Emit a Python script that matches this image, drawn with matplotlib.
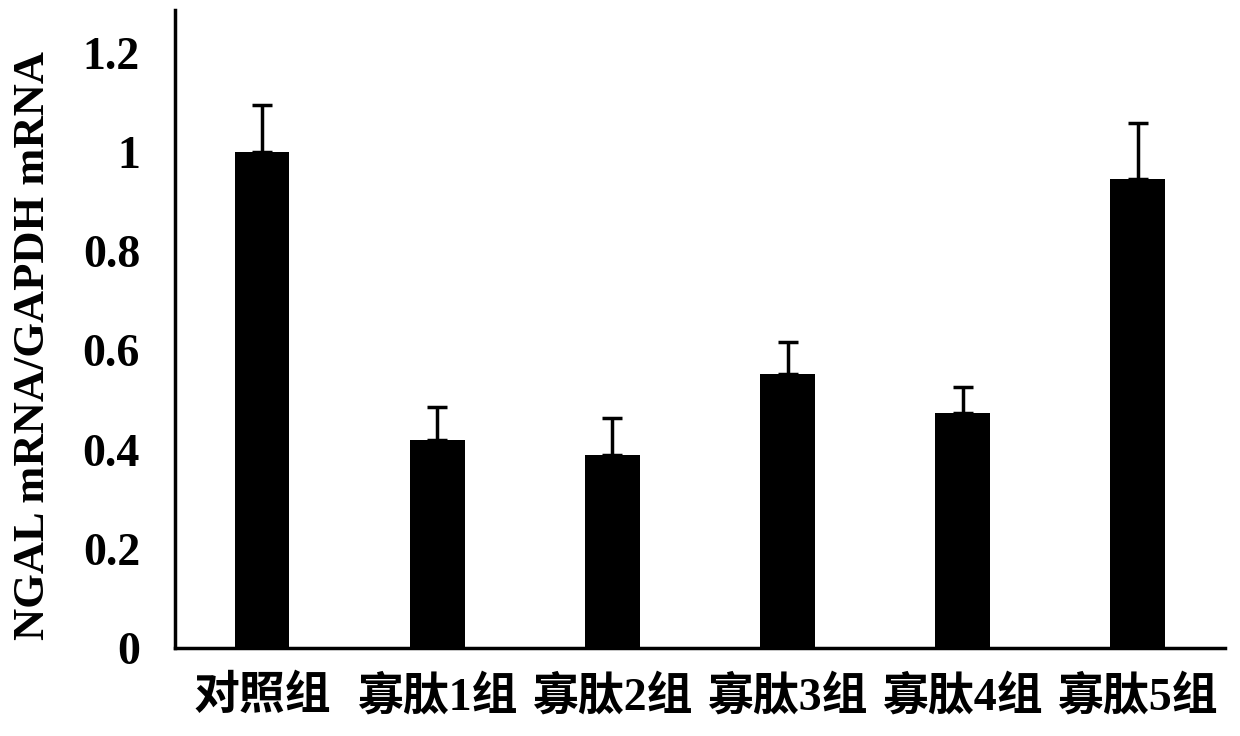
import numpy as np
import matplotlib.pyplot as plt

plt.rcParams['font.family'] = ['Liberation Serif', 'Noto Sans CJK SC']
plt.rcParams['font.weight'] = 'bold'

groups = ['对照组', '寡肽1组', '寡肽2组', '寡肽3组', '寡肽4组', '寡肽5组']
means = [1.0, 0.42, 0.39, 0.553, 0.474, 0.945]
errors = [0.095, 0.065, 0.073, 0.063, 0.052, 0.114]
yticks = [0, 0.2, 0.4, 0.6, 0.8, 1.0, 1.2]
ytick_labels = ['0', '0.2', '0.4', '0.6', '0.8', '1', '1.2']

fig = plt.figure(figsize=(12.4, 7.36), dpi=100)
ax = fig.add_axes([0.141, 0.1196, 0.847, 0.8668])

x = np.arange(len(groups))
ax.bar(x, means, width=0.31, color='black', zorder=2)
ax.errorbar(x, means, yerr=[np.zeros(len(errors)), errors], fmt='none',
            ecolor='black', elinewidth=2.5, capsize=7, capthick=2.5, zorder=3)

ax.set_xlim(-0.5, len(groups) - 0.5)
ax.set_ylim(0, 1.286)
ax.set_yticks(yticks)
ax.set_yticklabels(ytick_labels, fontsize=33, fontweight='bold')
ax.set_xticks(x)
ax.set_xticklabels(groups, fontsize=33, fontweight='bold')
ax.tick_params(axis='both', length=0)
ax.tick_params(axis='y', pad=25)
ax.tick_params(axis='x', pad=20)

fig.text(33 / 1240, 1 - 345 / 736, 'NGAL mRNA/GAPDH mRNA', rotation=90,
         ha='center', va='center', fontsize=32, fontweight='bold')

for side in ['top', 'right']:
    ax.spines[side].set_visible(False)
ax.spines['left'].set_linewidth(2.5)
ax.spines['bottom'].set_linewidth(2.5)

fig.savefig('out.png', dpi=100)
